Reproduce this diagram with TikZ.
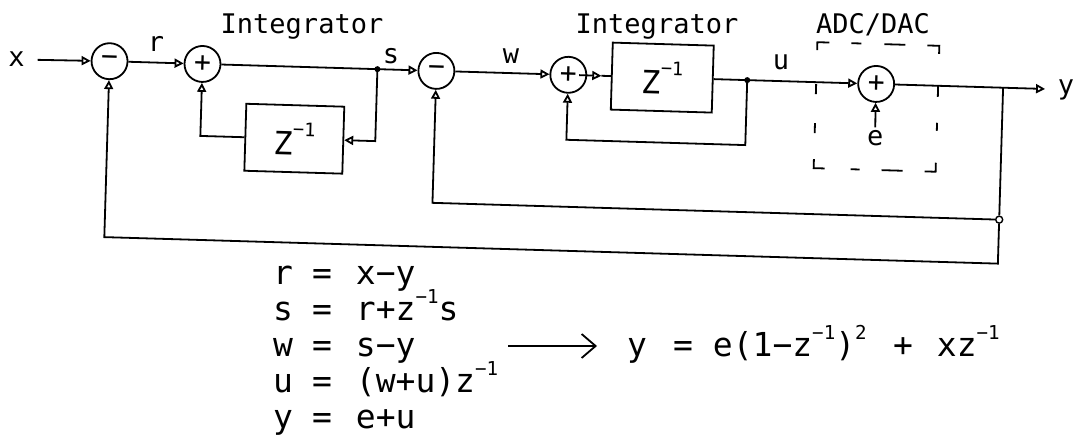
\documentclass[tikz,border=0pt]{standalone}
\usepackage{fontspec}
\usepackage{graphicx}
\newfontfamily\pf{DejaVu Sans Mono}
\usetikzlibrary{arrows.meta,calc}
\newcommand\sps[2][0.5em]{\raisebox{#1}{\scalebox{0.58}{#2}}}
\begin{document}
\begin{tikzpicture}[x=1pt,y=-1pt, line width=1.8pt,
  lab/.style={font=\pf\fontsize{27}{30}\selectfont, inner sep=0pt},
  eq/.style={font=\pf\fontsize{33}{36}\selectfont, inner sep=0pt},
  sumn/.style={circle, draw, minimum size=36pt, inner sep=0pt, transform shape, font=\pf\fontsize{28}{28}\selectfont},
  blk/.style={draw, minimum width=98pt, minimum height=67pt, inner sep=0pt, transform shape, font=\pf\fontsize{32}{32}\selectfont},
  arr/.style={-{Triangle[open,length=9pt,width=9pt]}},
  dotn/.style={circle, fill, inner sep=0pt, minimum size=6pt},
  odot/.style={circle, draw, fill=white, inner sep=0pt, minimum size=7pt, line width=1.4pt},
  dsh/.style={line width=1.8pt},
]
\fill[white] (0,0) rectangle (1078,439);
\useasboundingbox (0,0) rectangle (1078,439);

\begin{scope}[rotate around={-1.7:(539,220)}]
  % nodes
  \node[lab, inner sep=3pt] (xin) at (12,75) {x};
  \node[sumn] (c1) at (105,74) {−};
  \node[sumn] (c2) at (198,74) {+};
  \node[dotn] (sj) at (373,74) {};
  \node[sumn] (c3) at (432,74) {−};
  \node[sumn] (c4) at (564,74) {+};
  \node[blk, minimum width=101pt] (box2) at (658,74) {Z\sps[0.6em]{−1}};
  \node[dotn] (uj) at (743,74) {};
  \node[sumn] (c5) at (872,74) {+};
  \coordinate (yj) at (999,74);
  \coordinate (yend) at (1041,74);
  \node[blk] (box1) at (292,146) {Z\sps[0.6em]{−1}};
  \node[lab, inner sep=2pt] (e) at (872.6,128) {e};
  \node[odot] (oc) at (999,206) {};
  \coordinate (f1a) at (373,146);
  \coordinate (f1b) at (198,146);
  \coordinate (a4) at (597,74);
  \coordinate (f2a) at (743,139);
  \coordinate (f2b) at (564,139);
  \coordinate (f3) at (432,206);
  \coordinate (f4a) at (999,250);
  \coordinate (f4b) at (105,250);

  % connectors
  \draw[arr, shorten <=9pt] (xin) -- (c1);
  \draw[arr] (c1) -- (c2);
  \draw (c2) -- (sj.center);
  \draw[arr] (sj.center) -- (c3);
  \draw[arr] (sj.center) -- (f1a) -- (box1.east);
  \draw[arr] (box1.west) -- (f1b) -- (c2.south);
  \draw[arr] (c3) -- (c4);
  \draw[arr, shorten <=-8pt] (c4) -- (a4);
  \draw (a4) -- (box2.west);
  \draw (box2.east) -- (uj.center);
  \draw[arr] (uj.center) -- (c5);
  \draw[arr] (uj.center) -- (f2a) -- (f2b) -- (c4.south);
  \draw (c5) -- (yj);
  \draw[arr] (yj) -- (yend);
  \draw[arr] (e) -- (c5.south);
  \draw (yj) -- (oc);
  \draw[arr] (oc) -- (f3) -- (c3.south);
  \draw[arr] (oc) -- (f4a) -- (f4b) -- (c1.south);

  % dashed ADC/DAC box
  \draw[dsh] (812,42) -- (812,34) -- (824,34);
  \draw[dsh] (846,34) -- (856,34);
  \draw[dsh] (879,34) -- (900,34);
  \draw[dsh] (922,34) -- (934,34) -- (934,42);
  \draw[dsh] (812,76) -- (812,86);
  \draw[dsh] (812,115) -- (812,125);
  \draw[dsh] (934,74) -- (934,85);
  \draw[dsh] (934,111) -- (934,119);
  \draw[dsh] (812,151) -- (812,160) -- (823,160);
  \draw[dsh] (849,160) -- (858,160);
  \draw[dsh] (880,160) -- (901,160);
  \draw[dsh] (923,160) -- (934,160) -- (934,151);
\end{scope}

% labels (upright)
\node[lab] (lr) at (156,44) {r};
\node[lab] (ls) at (391,56) {s};
\node[lab] (lw) at (511,56) {w};
\node[lab] (lu) at (781,62) {u};
\node[lab] (ly) at (1066,90) {y};
\node[lab, anchor=base] (int1) at (302,33) {Integrator};
\node[lab, anchor=base] (int2) at (657,33) {Integrator};
\node[lab, anchor=base] (adc) at (873,33) {ADC/DAC};

% equations
\foreach \l/\r/\yy/\n in {r/{x−y}/284/1, s/{r+z\sps{−1}s}/320/2, w/{s−y}/356/3, u/{(w+u)z\sps{−1}}/392/4, y/{e+u}/428/5}{
  \node[eq, anchor=base] (lhs\n) at (283,\yy) {\l};
  \node[eq, anchor=base] (eqs\n) at (322,\yy) {=};
  \node[eq, anchor=base west] (rhs\n) at (355,\yy) {\r};
}
\coordinate (ar1) at (508,346);
\coordinate (ar2) at (597,346);
\draw[-{Straight Barb[length=14pt,width=24pt]}] (ar1) -- (ar2);
\node[eq, anchor=base] (ry) at (637,356) {y};
\node[eq, anchor=base] (req) at (683,356) {=};
\node[eq, anchor=base west] (rhsa) at (712,356) {e(1−z\sps{−1})\sps{2}};
\node[eq, anchor=base] (rp) at (903,356) {+};
\node[eq, anchor=base west] (rhsb) at (936,356) {xz\sps{−1}};
\end{tikzpicture}
\end{document}
